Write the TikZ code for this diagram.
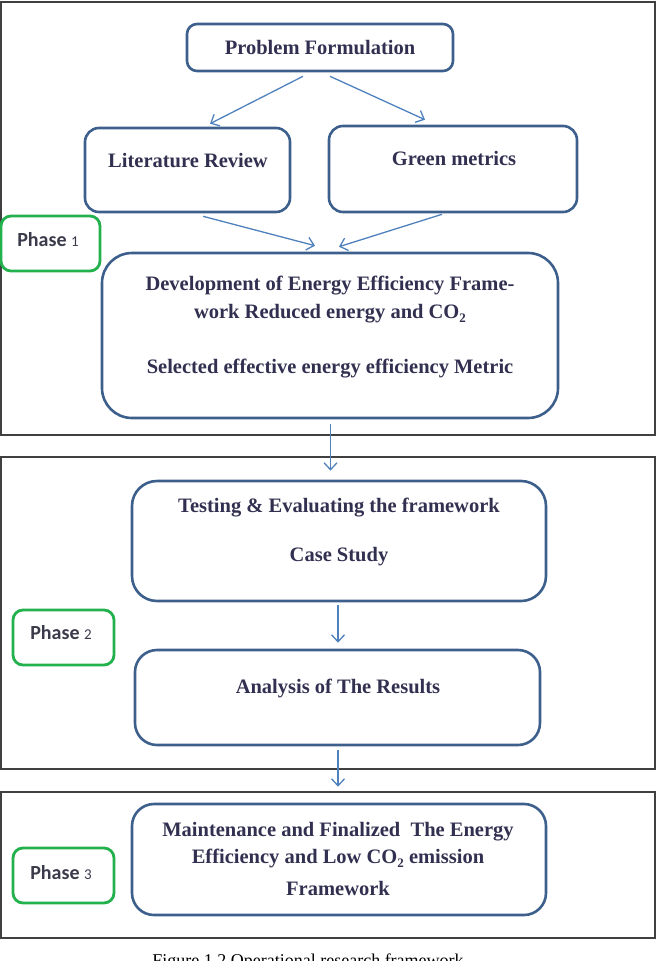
\documentclass[tikz,border=0pt]{standalone}
\usepackage{fontspec}
\setmainfont{Liberation Serif}
\newfontfamily\phasefont{Carlito}
\usetikzlibrary{arrows.meta}
\definecolor{boxblue}{RGB}{61,95,140}
\definecolor{arrowblue}{RGB}{79,129,189}
\definecolor{phasegreen}{RGB}{34,177,76}
\definecolor{txtcol}{RGB}{50,48,80}
\definecolor{framecol}{RGB}{64,64,64}
\definecolor{phasetxt}{RGB}{58,58,74}
\newcommand{\subtwo}{\raisebox{-0.45ex}{\fontsize{13}{13}\selectfont 2}}
\begin{document}
\begin{tikzpicture}[x=1pt,y=-1pt,
  framebox/.style={draw=framecol, line width=1.5pt},
  bbox/.style={draw=boxblue, line width=2.6pt, rounded corners=#1, inner sep=0pt},
  bbox/.default=14pt,
  phasebox/.style={draw=phasegreen, line width=2.8pt, rounded corners=10pt, inner sep=0pt,
    minimum width=99pt, minimum height=55pt},
  lbl/.style={anchor=base, inner sep=0pt, text=txtcol, font=\fontsize{20.5}{24}\selectfont\bfseries},
  plbl/.style={anchor=base, inner sep=0pt, text=phasetxt, font=\phasefont\fontsize{20}{24}\selectfont\bfseries},
  arr/.style={draw=arrowblue, line width=1.3pt, -{Straight Barb[length=7pt,width=13pt]}}
]
\useasboundingbox (0,0) rectangle (656,961);
% phase frames
\draw[framebox] (1,2) rectangle (655,435);
\draw[framebox] (1,457) rectangle (655,769);
\draw[framebox] (1,792) rectangle (655,938);

% blue boxes
\node[bbox=10pt, minimum width=266pt, minimum height=47pt] (pf) at (320,47.5) {};
\node[bbox=14pt, minimum width=205pt, minimum height=84pt] (lr) at (187.5,170) {};
\node[bbox=14pt, minimum width=248pt, minimum height=86pt] (gm) at (453,169) {};
\node[bbox=30pt, minimum width=456pt, minimum height=165pt] (dev) at (330,335.5) {};
\node[bbox=25pt, minimum width=414pt, minimum height=120pt] (test) at (339,541) {};
\node[bbox=22pt, minimum width=405pt, minimum height=95pt] (ana) at (337.5,697.5) {};
\node[bbox=22pt, minimum width=414pt, minimum height=111pt] (mnt) at (339,859.5) {};

% phase boxes
\node[phasebox] (p1) at (50.5,243.5) {};
\node[phasebox, minimum width=101pt] (p2) at (63.5,637.5) {};
\node[phasebox, minimum width=101pt] (p3) at (63.5,875.5) {};

% texts
\node[lbl] (tpf) at (320,54.5) {Problem Formulation};
\node[lbl] (tlr) at (188,167) {Literature Review};
\node[lbl] (tgm) at (454,165) {Green metrics};
\node[lbl] (tdev1) at (330,290.5) {Development of Energy Efficiency Frame-};
\node[lbl] (tdev2) at (330,318) {work Reduced energy and CO\subtwo};
\node[lbl] (tdev3) at (330,373) {Selected effective energy efficiency Metric};
\node[lbl] (ttest1) at (339,512.5) {Testing \& Evaluating the framework};
\node[lbl] (ttest2) at (339,561.5) {Case Study};
\node[lbl] (tana) at (338,693) {Analysis of The Results};
\node[lbl] (tmnt1) at (338,836) {Maintenance and Finalized\ \ The Energy};
\node[lbl] (tmnt2) at (338,863) {Efficiency and Low CO\subtwo{} emission};
\node[lbl] (tmnt3) at (338,895.5) {Framework};

\node[plbl] (tp1) at (48,246.5) {Phase {\mdseries\fontsize{15}{15}\selectfont 1}};
\node[plbl] (tp2) at (61,639.5) {Phase {\mdseries\fontsize{15}{15}\selectfont 2}};
\node[plbl] (tp3) at (61,879.5) {Phase {\mdseries\fontsize{15}{15}\selectfont 3}};

% arrows
\draw[arr] ([xshift=-17pt,yshift=-4pt]pf.south) -- ([xshift=22.5pt,yshift=3pt]lr.north);
\draw[arr] ([xshift=10pt,yshift=-4pt]pf.south) -- ([xshift=-28pt,yshift=5pt]gm.north);
\draw[arr] ([xshift=15.5pt,yshift=-3pt]lr.south) -- ([xshift=-15pt,yshift=6pt]dev.north);
\draw[arr] ([xshift=-11pt,yshift=-1pt]gm.south) -- ([xshift=9pt,yshift=5pt]dev.north);
\draw[arr] ([xshift=0.5pt,yshift=-5pt]dev.south) -- ([xshift=-8.5pt,yshift=9pt]test.north);
\draw[arr] ([xshift=-1pt,yshift=-3pt]test.south) -- ([xshift=0.5pt,yshift=6pt]ana.north);
\draw[arr] ([xshift=0.5pt,yshift=-4pt]ana.south) -- ([xshift=-1pt,yshift=16pt]mnt.north);

% caption (cut by the page edge as in the reference)
\node[anchor=base, inner sep=0pt, font=\fontsize{18}{18}\selectfont] (cap) at (308,966) {Figure 1.2 Operational research framework};
\end{tikzpicture}
\end{document}
